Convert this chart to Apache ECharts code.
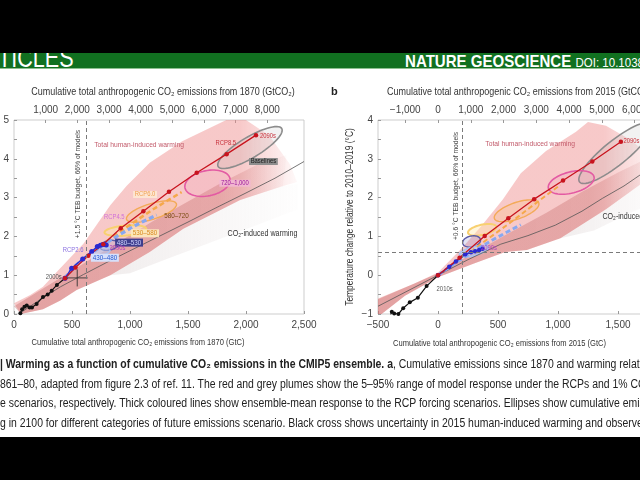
<!DOCTYPE html>
<html>
<head>
<meta charset="utf-8">
<script src="https://cdn.jsdelivr.net/npm/echarts@6/dist/echarts.min.js"></script>
<style>
  html, body { margin: 0; padding: 0; width: 640px; height: 480px; overflow: hidden; background: #fff; }
  body { position: relative; font-family: 'Liberation Sans', sans-serif; }
  #topbar { position: absolute; left: 0; top: 0; width: 640px; height: 53px; background: #000; z-index: 3; }
  #band { position: absolute; left: 0; top: 53px; width: 640px; height: 15px; background: #117020;
          border-bottom: 1px solid #8cc08f; overflow: hidden; z-index: 2; }
  #band .l { position: absolute; left: -2px; bottom: -6px; color: #fff; font-size: 27px; white-space: nowrap;
             transform: scaleX(0.8); transform-origin: left bottom; }
  #band .r { position: absolute; left: 405px; bottom: -4px; color: #fff; white-space: nowrap; font-size: 17px;
             transform: scaleX(0.886); transform-origin: left bottom; }
  #band .r span { font-size: 13px; }
  #chart { position: absolute; left: 0; top: 0; width: 700px; height: 480px; z-index: 1; }
  #caption { position: absolute; left: 0; top: 355px; width: 740px; white-space: nowrap; overflow: hidden;
             font-size: 12px; line-height: 19.5px; color: #222; z-index: 2;
             transform: scaleX(0.87); transform-origin: left top; }
  #bottombar { position: absolute; left: 0; top: 437px; width: 640px; height: 43px; background: #000; z-index: 3; }
</style>
</head>
<body>
<div id="topbar"></div>
<div id="band">
  <div class="l">TICLES</div>
  <div class="r"><b>NATURE GEOSCIENCE</b> <span>DOI: 10.1038</span></div>
</div>
<div id="chart"></div>
<div id="caption">
  <div><b>| Warming as a function of cumulative CO₂ emissions in the CMIP5 ensemble. a</b>, Cumulative emissions since 1870 and warming relative to</div>
  <div>861–80, adapted from figure 2.3 of ref. 11. The red and grey plumes show the 5–95% range of model response under the RCPs and 1% CO₂</div>
  <div>e scenarios, respectively. Thick coloured lines show ensemble-mean response to the RCP forcing scenarios. Ellipses show cumulative emissions</div>
  <div>g in 2100 for different categories of future emissions scenario. Black cross shows uncertainty in 2015 human-induced warming and observed</div>
</div>
<div id="bottombar"></div>

<script>
// ── 資料：a 圖（自 1870，GtC / °C）──────────────────────
const histA  = [[55,0.02],[70,0.12],[90,0.19],[110,0.22],[135,0.17],[155,0.17],[195,0.26],[250,0.44],[290,0.5],[325,0.6],[370,0.75],[440,0.92]];
const rcp26A = [[440,0.92],[497,1.18],[592,1.42],[670,1.61],[718,1.74],[745,1.77],[765,1.79],[782,1.79],[795,1.78]];
const rcp45A = [[440,0.92],[510,1.2],[610,1.45],[720,1.68],[820,1.88],[920,2.06],[1010,2.22],[1090,2.35],[1160,2.45],[1230,2.55]];
const rcp60A = [[440,0.92],[510,1.18],[600,1.42],[700,1.65],[810,1.9],[930,2.15],[1060,2.42],[1190,2.68],[1320,2.92],[1445,3.14]];
const rcp85A = [[440,0.92],[530,1.2],[640,1.5],[770,1.8],[920,2.21],[1115,2.65],[1336,3.15],[1575,3.64],[1833,4.12],[2086,4.61]];
const co2A   = [[50,0.02],[150,0.22],[250,0.42],[400,0.7],[600,1.02],[800,1.33],[1000,1.63],[1250,2.0],[1500,2.37],[1750,2.75],[2000,3.12],[2250,3.5],[2500,3.93]];
const plumeRedA = [[0,0.28],[140,0.49],[250,0.7],[370,1.09],[480,1.44],[600,1.82],[710,2.29],[830,2.8],[970,3.3],[1170,3.9],[1450,4.45],[1830,5.0],
                   [2000,5.0],[2200,4.6],[2380,3.85],[2440,3.4],[2320,3.3],[1950,2.94],[1460,2.2],[1170,1.6],[830,1.0],[540,0.62],[400,0.35],[250,0.12],[60,0]];
const plumeCoreA = [[0,0.2],[300,0.75],[600,1.3],[900,1.85],[1200,2.4],[1500,2.9],[1800,3.4],[2100,3.85],[2350,4.1],
                    [2320,3.3],[1950,2.94],[1460,2.2],[1170,1.6],[830,1.0],[540,0.62],[400,0.35],[250,0.12],[60,0]];
const plumeGreyA = [[1170,1.6],[1460,2.2],[1950,2.94],[2320,3.3],[2450,3.35],[2450,2.7],[2100,2.3],[1700,1.85],[1300,1.4],[1000,1.05],[830,1.0]];
// 橢圓：[中心 x, 中心 y, 半長軸向量 dx, dy, 短/長軸比, 類別]
const ellipsesA = [
  [2034, 4.29, 274, 0.49, 0.28, 'base'],
  [1668, 3.37, 194, 0.12, 0.55, 'e720'],
  [1185, 2.64, 215, 0.2, 0.3, 'e580'],
  [960, 2.15, 180, 0.05, 0.24, 'e530'],
  [820, 1.77, 80, 0.05, 0.5, 'e480'],
  [748, 1.62, 80, 0.04, 0.45, 'e430']
];
const crossA = [545, 0.93, 90, 0.22];
const budgetA = 620;
const labelsA = [
  [1078, 4.36, 'Total human-induced warming', 'total'],
  [2142, 2.06, 'CO₂-induced warming', 'co2'],
  [554, 3.35, '+1.5 °C TEB budget, 66% of models', 'budget'],
  [1826, 4.41, 'RCP8.5', 'rcp85'],
  [2190, 4.59, '2090s', 'rcp85'],
  [2150, 3.93, 'Baselines', 'base'],
  [1905, 3.37, '720–1,000', 'e720'],
  [1400, 2.53, '580–720', 'e580'],
  [1130, 2.08, '530–580', 'e530'],
  [992, 1.84, '480–530', 'e480'],
  [784, 1.45, '430–480', 'e430'],
  [1130, 3.08, 'RCP6.0', 'rcp60'],
  [865, 2.51, 'RCP4.5', 'rcp45'],
  [510, 1.65, 'RCP2.6', 'rcp26'],
  [892, 1.71, '2090s', 'dec26'],
  [342, 0.96, '2000s', 'dec']
];

// ── 資料：b 圖（自 2015，相對 2010–2019）────────────────
const histB  = [[-395,-1.02],[-385,-0.94],[-365,-0.99],[-330,-1.0],[-290,-0.85],[-235,-0.7],[-168,-0.58],[-95,-0.28],[0,0]];
const rcp26B = [[0,0],[94,0.22],[149,0.35],[227,0.54],[274,0.59],[310,0.62],[343,0.65],[371,0.68]];
const rcp45B = [[0,0],[150,0.33],[300,0.62],[450,0.9],[580,1.12],[690,1.3]];
const rcp60B = [[0,0],[200,0.44],[400,0.9],[600,1.35],[800,1.82],[1020,2.33]];
const rcp85B = [[0,0],[180,0.45],[389,1.01],[586,1.47],[801,1.96],[1042,2.44],[1286,2.93],[1524,3.44]];
const co2B   = [[-500,-0.8],[-250,-0.4],[0,0],[250,0.4],[523,0.8],[750,1.02],[978,1.29],[1200,1.65],[1370,1.98],[1550,2.3],[1706,2.63],[2000,3.1]];
const plumeRedB = [[-500,-0.6],[-200,-0.22],[0,0.07],[190,0.67],[360,1.26],[540,1.95],[690,2.63],[900,3.2],[1150,3.7],[1250,3.95],[1400,3.85],[1600,3.5],[1800,3.0],
                   [1850,2.5],[1700,2.37],[1400,1.7],[1020,0.95],[740,0.65],[560,0.6],[300,0.3],[0,-0.05],[-275,-0.53],[-470,-1.0],[-500,-1.05]];
const plumeCoreB = [[-500,-0.62],[0,0.05],[300,0.58],[600,1.1],[900,1.6],[1200,2.15],[1500,2.65],[1800,3.1],
                    [1850,2.5],[1700,2.37],[1400,1.7],[1020,0.95],[740,0.65],[560,0.6],[300,0.3],[0,-0.05],[-275,-0.53],[-470,-1.0],[-500,-1.05]];
const plumeGreyB = [[1020,0.95],[1400,1.7],[1700,2.37],[1900,2.6],[1900,2.0],[1600,1.6],[1300,1.15]];
const ellipsesB = [
  [1480, 3.15, 300, 0.75, 0.26, 'base'],
  [1110, 2.39, 190, 0.15, 0.45, 'e720'],
  [655, 1.66, 185, 0.2, 0.35, 'e580'],
  [368, 1.17, 118, 0.08, 0.35, 'e530'],
  [280, 0.87, 74, 0.05, 0.6, 'e480'],
  [298, 0.62, 120, 0.1, 0.3, 'e430']
];
const budgetB = 199;
const targetB = 0.6;
const labelsB = [
  [768, 3.38, 'Total human-induced warming', 'total'],
  [1370, 1.52, 'CO₂-induced warming', 'co2L'],
  [145, 2.3, '+0.6 °C TEB budget, 66% of models', 'budget'],
  [1545, 3.46, '2090s', 'rcp85L'],
  [425, 0.7, '2090s', 'dec26'],
  [55, -0.36, '2010s', 'dec']
];

// 軸刻度
const topTicksA = [1000, 2000, 3000, 4000, 5000, 6000, 7000, 8000];
const topTicksB = [-1000, 0, 1000, 2000, 3000, 4000, 5000, 6000, 7000];
const GTCO2_PER_GTC = 3.664;

// ── 樣式 ───────────────────────────────────────────────
const FONT = "'Liberation Sans',sans-serif";
const SQUEEZE = 0.84;   // 模擬原圖的窄體字
const fmtNum = v => (v < 0 ? '\u2212' : '') + String(Math.abs(v)).replace(/\B(?=(\d{3})+(?!\d))/g, ',');

const ellipseStyle = {
  base: { stroke: '#8c8c8c', lineWidth: 1.6, fill: 'rgba(150,150,150,0.12)' },
  e720: { stroke: '#e35aa3', lineWidth: 1.6, fill: 'rgba(230,110,170,0.10)' },
  e580: { stroke: '#f3aa58', lineWidth: 1.4, fill: 'rgba(250,190,120,0.25)' },
  e530: { stroke: '#f8d070', lineWidth: 2, fill: 'rgba(255,232,170,0.4)' },
  e480: { stroke: '#5a5aa8', lineWidth: 1.4, fill: 'rgba(120,120,200,0.2)' },
  e430: { stroke: '#a9c5f5', lineWidth: 1.5, fill: 'rgba(175,200,245,0.55)' }
};
const labelStyle = {
  total:  { fill: '#c25a6a', fontSize: 8 },
  co2:    { fill: '#333', fontSize: 8.5 },
  co2L:   { fill: '#333', fontSize: 8.5, align: 'left' },
  budget: { fill: '#444', fontSize: 8, rotate: true },
  rcp85:  { fill: '#c8323c', fontSize: 7 },
  rcp85L: { fill: '#c8323c', fontSize: 7, align: 'left' },
  base:   { fill: '#1a1a1a', fontSize: 7, bg: '#8e8e8e' },
  e720:   { fill: '#9a1a9a', fontSize: 7, bg: 'rgba(244,184,216,0.8)' },
  e580:   { fill: '#7a4a10', fontSize: 7.5 },
  e530:   { fill: '#d98a20', fontSize: 7.5, bg: 'rgba(253,235,190,0.9)' },
  e480:   { fill: '#d0d4ff', fontSize: 7.5, bg: '#3e3e8e' },
  e430:   { fill: '#2a5ad0', fontSize: 7.5, bg: 'rgba(214,228,255,0.95)' },
  rcp60:  { fill: '#f0a050', fontSize: 7, bg: 'rgba(255,236,214,0.8)' },
  rcp45:  { fill: '#d070d8', fontSize: 7 },
  rcp26:  { fill: '#8a70e0', fontSize: 7 },
  dec26:  { fill: '#b040c0', fontSize: 7 },
  dec:    { fill: '#555', fontSize: 7 }
};

// ── 系列產生器 ─────────────────────────────────────────
function plumeSeries(poly, idx, fill) {
  return {
    type: 'custom', xAxisIndex: idx * 2, yAxisIndex: idx, silent: true, clip: true,
    data: poly,
    renderItem: (params, api) => {
      if (params.dataIndex !== 0) return null;
      const cs = params.coordSys;
      const pts = echarts.graphic.clipPointsByRect(poly.map(p => api.coord(p)),
        { x: cs.x, y: cs.y, width: cs.width, height: cs.height });
      return { type: 'polygon', shape: { points: pts }, style: { fill: fill } };
    }
  };
}

function ellipseSeries(list, idx) {
  return {
    type: 'custom', xAxisIndex: idx * 2, yAxisIndex: idx, silent: true, clip: true,
    data: list.map(e => e.slice(0, 5)),
    renderItem: (params, api) => {
      const e = list[params.dataIndex];
      const c = api.coord([e[0], e[1]]);
      const t = api.coord([e[0] + e[2], e[1] + e[3]]);
      const ux = t[0] - c[0], uy = t[1] - c[1];
      const vx = -uy * e[4], vy = ux * e[4];
      const pts = [];
      for (let k = 0; k < 60; k++) {
        const a = k / 60 * Math.PI * 2;
        pts.push([c[0] + Math.cos(a) * ux + Math.sin(a) * vx, c[1] + Math.cos(a) * uy + Math.sin(a) * vy]);
      }
      return { type: 'polygon', shape: { points: pts }, style: ellipseStyle[e[5]] };
    }
  };
}

function labelSeries(list, idx) {
  return {
    type: 'custom', xAxisIndex: idx * 2, yAxisIndex: idx, silent: true, clip: false, z: 5,
    data: list.map(l => [l[0], l[1]]),
    renderItem: (params, api) => {
      const l = list[params.dataIndex];
      const s = labelStyle[l[3]];
      const p = api.coord([l[0], l[1]]);
      return {
        type: 'text', x: p[0], y: p[1], rotation: s.rotate ? Math.PI / 2 : 0, scaleX: SQUEEZE,
        style: {
          text: l[2], fill: s.fill, font: s.fontSize + 'px ' + FONT,
          align: s.align || 'center', verticalAlign: 'middle',
          backgroundColor: s.bg || 'transparent', padding: s.bg ? [0, 2] : 0
        }
      };
    }
  };
}

function lineSeries(data, idx, color, width, opts) {
  return Object.assign({
    type: 'line', xAxisIndex: idx * 2, yAxisIndex: idx, data: data,
    symbol: 'none', silent: true, animation: false,
    lineStyle: { color: color, width: width }
  }, opts || {});
}

const dotted = (size, color) => ({ symbol: 'circle', symbolSize: size, showSymbol: true, itemStyle: { color: color } });

function crossSeries(c, idx) {
  return {
    type: 'custom', xAxisIndex: idx * 2, yAxisIndex: idx, silent: true, z: 4,
    data: [c],
    renderItem: (params, api) => {
      const l = api.coord([c[0] - c[2], c[1]]), r = api.coord([c[0] + c[2], c[1]]);
      const t = api.coord([c[0], c[1] + c[3]]), b = api.coord([c[0], c[1] - c[3]]);
      const st = { stroke: '#333', lineWidth: 0.9 };
      return { type: 'group', children: [
        { type: 'line', shape: { x1: l[0], y1: l[1], x2: r[0], y2: r[1] }, style: st },
        { type: 'line', shape: { x1: t[0], y1: t[1], x2: b[0], y2: b[1] }, style: st }
      ] };
    }
  };
}

const dashLine = { type: [4, 3], color: '#7a7a7a', width: 1 };
const redFade = new echarts.graphic.LinearGradient(0, 0, 1, 0, [
  { offset: 0, color: 'rgba(238,135,135,0.45)' },
  { offset: 0.8, color: 'rgba(238,135,135,0.45)' },
  { offset: 1, color: 'rgba(238,135,135,0.05)' }
]);
const coreFade = new echarts.graphic.LinearGradient(0, 0, 1, 0, [
  { offset: 0, color: 'rgba(185,80,80,0.32)' },
  { offset: 0.75, color: 'rgba(185,80,80,0.28)' },
  { offset: 1, color: 'rgba(185,80,80,0.02)' }
]);
const greyFill = new echarts.graphic.LinearGradient(0, 0, 1, 0, [
  { offset: 0, color: 'rgba(200,185,185,0.25)' },
  { offset: 1, color: 'rgba(200,185,185,0.02)' }
]);

// ── 軸 ─────────────────────────────────────────────────
const axisText = { color: '#444', fontSize: 10, fontFamily: FONT };
const tickInside = { show: true, inside: true, length: 3, lineStyle: { color: '#999' } };
const noLine = { show: false, onZero: false };

function bottomAxis(grid, min, max) {
  return { type: 'value', gridIndex: grid, position: 'bottom', min: min, max: max, interval: 500,
           axisLine: noLine, splitLine: { show: false }, axisTick: tickInside,
           axisLabel: Object.assign({ margin: 6, formatter: fmtNum }, axisText) };
}
function topAxis(grid, min, max, ticks) {
  return { type: 'value', gridIndex: grid, position: 'top', min: min * GTCO2_PER_GTC, max: max * GTCO2_PER_GTC,
           axisLine: noLine, splitLine: { show: false },
           axisTick: Object.assign({ customValues: ticks }, tickInside),
           axisLabel: Object.assign({ margin: 5, customValues: ticks, formatter: fmtNum }, axisText) };
}
function leftAxis(grid, min, max) {
  return { type: 'value', gridIndex: grid, position: 'left', min: min, max: max, interval: 1,
           axisLine: noLine, splitLine: { show: false }, axisTick: tickInside,
           minorTick: { show: true, splitNumber: 2, length: 3, lineStyle: { color: '#999' } },
           axisLabel: Object.assign({ margin: 5, formatter: fmtNum }, axisText) };
}

const titleText = (text, x, y, align, size, squeeze, opts) => Object.assign({
  type: 'text', x: x, y: y, silent: true, scaleX: squeeze,
  style: { text: text, fill: '#333', font: size + 'px ' + FONT, align: align, verticalAlign: 'middle' }
}, opts || {});

const chart = echarts.init(document.getElementById('chart'), null, { renderer: 'canvas' });
chart.setOption({
  animation: false,
  backgroundColor: 'transparent',
  grid: [
    { left: 14, top: 120, width: 290, height: 194, show: true, borderColor: '#c0c0c0', borderWidth: 0.8 },
    { left: 378, top: 120, width: 300, height: 194, show: true, borderColor: '#c0c0c0', borderWidth: 0.8 }
  ],
  xAxis: [
    bottomAxis(0, 0, 2500), topAxis(0, 0, 2500, topTicksA),
    bottomAxis(1, -500, 2000), topAxis(1, -500, 2000, topTicksB)
  ],
  yAxis: [leftAxis(0, 0, 5), leftAxis(1, -1, 4)],
  graphic: [
    titleText('Cumulative total anthropogenic CO₂ emissions from 1870 (GtCO₂)', 163, 92, 'center', 10.5, 0.855),
    titleText('Cumulative total anthropogenic CO₂ emissions from 1870 (GtC)', 138, 343, 'center', 9, 0.84),
    titleText('b', 331, 92, 'left', 11, 1, { style: { text: 'b', fill: '#222', font: 'bold 11px ' + FONT, align: 'left', verticalAlign: 'middle' } }),
    titleText('Cumulative total anthropogenic CO₂ emissions from 2015 (GtCO₂)', 387, 92, 'left', 10.5, 0.855),
    titleText('Cumulative total anthropogenic CO₂ emissions from 2015 (GtC)', 393, 344, 'left', 9, 0.84),
    titleText('Temperature change relative to 2010–2019 (°C)', 350, 217, 'center', 10.5, 0.8, { rotation: Math.PI / 2 })
  ],
  series: [
    // a 圖
    plumeSeries(plumeGreyA, 0, greyFill),
    plumeSeries(plumeRedA, 0, redFade),
    plumeSeries(plumeCoreA, 0, coreFade),
    lineSeries(co2A, 0, '#555', 0.8, { markLine: { silent: true, symbol: 'none', label: { show: false },
      lineStyle: dashLine, data: [{ xAxis: budgetA }] } }),
    ellipseSeries(ellipsesA, 0),
    lineSeries(histA, 0, '#111', 1.2, dotted(4, '#111')),
    lineSeries(rcp60A, 0, '#f5a84a', 2.5, { lineStyle: { color: '#f5a84a', width: 2.5, type: [5, 3] } }),
    lineSeries(rcp45A, 0, '#88a8f0', 3.2, { lineStyle: { color: '#88a8f0', width: 3.2, type: [5, 3] } }),
    lineSeries(rcp26A, 0, '#2a2ad0', 1.4, dotted(5, '#2a2ad0')),
    lineSeries(rcp85A, 0, '#c8141e', 1.3, dotted(4.5, '#c8141e')),
    crossSeries(crossA, 0),
    labelSeries(labelsA, 0),
    // b 圖
    plumeSeries(plumeGreyB, 1, greyFill),
    plumeSeries(plumeRedB, 1, redFade),
    plumeSeries(plumeCoreB, 1, coreFade),
    lineSeries(co2B, 1, '#555', 0.8, { markLine: { silent: true, symbol: 'none', label: { show: false },
      lineStyle: dashLine, data: [{ xAxis: budgetB }, { yAxis: targetB }] } }),
    ellipseSeries(ellipsesB, 1),
    lineSeries(histB, 1, '#111', 1.2, dotted(4, '#111')),
    lineSeries(rcp60B, 1, '#f5a84a', 2, { lineStyle: { color: '#f5a84a', width: 2, type: [5, 3] } }),
    lineSeries(rcp45B, 1, '#88a8f0', 3, { lineStyle: { color: '#88a8f0', width: 3, type: [5, 3] } }),
    lineSeries(rcp26B, 1, '#2a2ad0', 1.4, dotted(4.5, '#2a2ad0')),
    lineSeries(rcp85B, 1, '#c8141e', 1.3, dotted(4.5, '#c8141e')),
    labelSeries(labelsB, 1)
  ]
});
</script>
</body>
</html>
